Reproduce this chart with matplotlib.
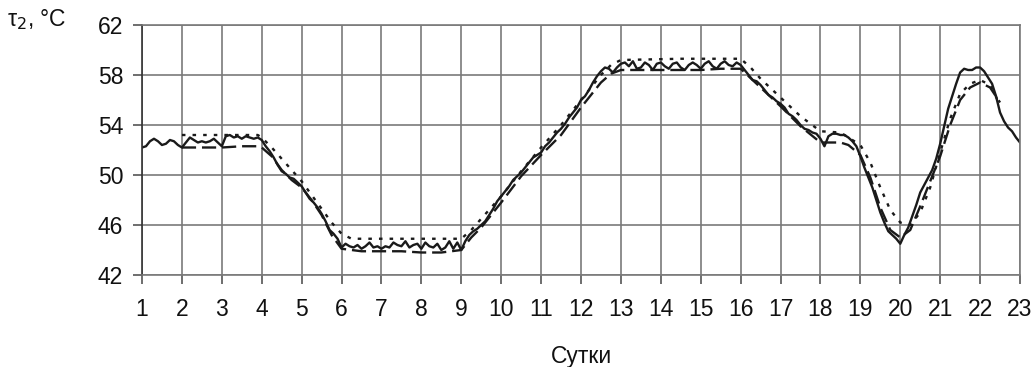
import numpy as np
import matplotlib
matplotlib.use('Agg')
import matplotlib.pyplot as plt

plt.rcParams['font.family'] = ['Liberation Sans', 'DejaVu Sans']

# измеренная температура (сплошная), шаг 0.1 суток, от 1 до 23
t_meas = np.round(np.arange(1.0, 23.01, 0.1), 2)
tau_meas = [
    52.2, 52.3, 52.7, 52.9, 52.7, 52.4, 52.5, 52.8, 52.7, 52.4,
    52.2, 52.6, 53.0, 52.8, 52.6, 52.7, 52.6, 52.7, 52.9, 52.6,
    52.3, 53.1, 53.2, 53.0, 53.1, 52.9, 53.1, 53.0, 52.9, 53.0,
    52.8, 52.3, 51.9, 51.4, 50.8, 50.3, 50.1, 49.8, 49.7, 49.4,
    49.1, 48.6, 48.1, 47.8, 47.4, 46.9, 46.3, 45.6, 45.3, 44.9,
    44.2, 44.5, 44.3, 44.2, 44.4, 44.1, 44.3, 44.6, 44.2, 44.3,
    44.1, 44.3, 44.2, 44.6, 44.4, 44.3, 44.7, 44.2, 44.4, 44.5,
    44.1, 44.6, 44.3, 44.2, 44.5, 44.0, 44.2, 44.7, 44.1, 44.6,
    44.0, 44.7, 45.2, 45.5, 45.7, 46.0, 46.3, 46.8, 47.3, 47.9,
    48.3, 48.7, 49.1, 49.6, 49.9, 50.2, 50.6, 51.0, 51.4, 51.6,
    51.8, 52.3, 52.6, 53.0, 53.4, 53.7, 54.1, 54.6, 55.0, 55.4,
    56.0, 56.3, 56.8, 57.4, 57.9, 58.3, 58.6, 58.5, 58.2, 58.6,
    58.9, 59.0, 58.7, 59.1, 58.5, 58.6, 59.0, 58.8, 58.4, 58.9,
    59.0, 58.7, 58.5, 58.9, 59.0, 58.6, 58.4, 58.8, 59.0, 58.8,
    58.5, 58.9, 59.1, 58.7, 58.5, 58.9, 59.1, 58.8, 58.7, 59.0,
    58.8, 58.4, 58.0, 57.6, 57.5, 57.2, 56.8, 56.4, 56.2, 55.9,
    55.7, 55.4, 54.9, 54.7, 54.4, 54.0, 53.7, 53.6, 53.4, 53.3,
    52.9, 52.3, 53.1, 53.3, 53.3, 53.2, 53.2, 53.0, 52.7, 52.3,
    51.5, 50.6, 49.8, 49.0, 48.0, 47.0, 46.2, 45.5, 45.2, 44.9,
    44.5, 45.2, 45.8, 46.7, 47.6, 48.6, 49.2, 49.8, 50.4, 51.3,
    52.5, 53.9, 55.3, 56.3, 57.3, 58.2, 58.5, 58.4, 58.4, 58.6,
    58.6, 58.3, 57.8, 57.3, 56.3, 55.0, 54.3, 53.8, 53.5, 53.0,
    52.6,
]

# расчёт 1 (штриховая)
t_calc1 = [2.0, 2.5, 3.0, 3.5, 3.9, 4.0, 4.25, 4.5, 4.75, 5.0, 5.25, 5.5, 5.75,
           6.0, 6.5, 7.0, 7.5, 8.0, 8.5, 9.0, 9.25, 9.5, 9.75, 10.0, 10.5,
           11.0, 11.5, 12.0, 12.5, 12.75, 13.0, 14.0, 15.0, 15.5, 16.0, 16.5,
           17.0, 17.5, 18.0, 18.5, 18.7, 19.0, 19.25, 19.5, 19.75, 20.0,
           20.25, 20.5, 21.0, 21.25, 21.5, 21.75, 22.0, 22.25, 22.5]
tau_calc1 = [52.2, 52.2, 52.2, 52.3, 52.3, 52.2, 51.5, 50.4, 49.6, 49.0, 48.0,
             46.8, 45.2, 44.1, 43.9, 43.9, 43.9, 43.8, 43.8, 44.0, 45.0, 45.8,
             46.8, 47.8, 49.9, 51.6, 53.2, 55.4, 57.4, 58.1, 58.4, 58.4, 58.4,
             58.5, 58.5, 57.0, 55.5, 53.9, 52.6, 52.6, 52.4, 51.6, 49.8, 47.4,
             45.6, 45.0, 45.6, 47.5, 51.5, 54.0, 56.0, 57.0, 57.4, 57.0, 55.8]

# расчёт 2 (пунктир)
t_calc2 = [2.0, 3.0, 3.9, 4.0, 4.25, 4.5, 4.75, 5.0, 5.25, 5.5, 5.75, 6.0,
           6.25, 6.5, 7.5, 9.0, 9.25, 9.5, 9.75, 10.0, 10.5, 11.0, 11.5, 12.0,
           12.5, 12.75, 13.0, 14.5, 16.0, 16.25, 16.5, 17.0, 17.5, 18.0, 18.5,
           19.0, 19.25, 19.5, 19.75, 20.0, 20.25, 20.5, 20.75, 21.0, 21.25,
           21.5, 21.75, 22.0, 22.25, 22.5]
tau_calc2 = [53.2, 53.2, 53.2, 53.0, 52.2, 51.3, 50.4, 49.5, 48.4, 47.3, 46.2,
             45.3, 44.9, 44.9, 44.9, 44.9, 45.6, 46.5, 47.4, 48.3, 50.3, 52.2,
             54.0, 56.0, 58.0, 58.8, 59.2, 59.3, 59.3, 58.6, 57.7, 56.2, 54.7,
             53.5, 53.4, 52.4, 51.0, 49.0, 47.2, 46.2, 46.0, 47.0, 49.0, 51.8,
             54.5, 56.5, 57.3, 57.6, 57.2, 55.6]

x_ticks = list(range(1, 24))
y_ticks = [42, 46, 50, 54, 58, 62]

fig = plt.figure(figsize=(10.35, 3.67), dpi=100)
ax = fig.add_axes([142 / 1035, 1 - 275 / 367, (1020 - 142) / 1035, 250 / 367])

line_col = '#1a1a1a'
ax.plot(t_meas, tau_meas, color=line_col, lw=1.7, solid_joinstyle='round')
ax.plot(t_calc1, tau_calc1, color=line_col, lw=1.7, linestyle=(0, (6, 2.5)))
ax.plot(t_calc2, tau_calc2, color=line_col, lw=1.7, linestyle=(0, (1.5, 3.0)))

ax.set_xlim(1, 23)
ax.set_ylim(42, 62)
ax.set_xticks(x_ticks)
ax.set_yticks(y_ticks)
ax.grid(True, color='#7a7a7a', lw=1.2)
ax.set_axisbelow(True)
for s in ax.spines.values():
    s.set_color('#7a7a7a')
    s.set_linewidth(1.2)
ax.spines['left'].set_color('#333333')

ax.tick_params(axis='both', direction='out', length=6.5, width=1.2,
               color='#555555', labelsize=16.5, labelcolor='#111111')
ax.tick_params(axis='y', pad=7)
ax.tick_params(axis='x', pad=10)

ax.set_xlabel('Сутки', fontsize=16.5, color='#111111', labelpad=17)
fig.text(7 / 1035, 1 - 20 / 367, 'τ$_2$, °C', fontsize=16.5, color='#111111',
         va='center', ha='left')

fig.savefig('out.png', dpi=100)
